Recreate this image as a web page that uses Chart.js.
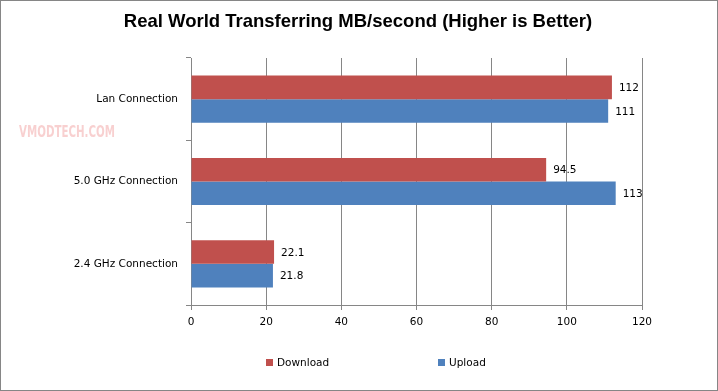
<!DOCTYPE html>
<html lang="en">
<head>
  <meta charset="UTF-8">
  <title>Real World Transferring</title>
  <style>
    body { margin: 0; background: #fff; }
    #wrap { width: 718px; height: 391px; }
  </style>
</head>
<body>
  <div id="wrap"><canvas id="chart" width="718" height="391"></canvas></div>

  <script src="https://cdn.jsdelivr.net/npm/chart.js"></script>
  <script>
    const categories = ['Lan Connection', '5.0 GHz Connection', '2.4 GHz Connection'];
    const downloadValues = [112, 94.5, 22.1];
    const uploadValues = [111, 113, 21.8];
    const seriesNames = ['Download', 'Upload'];
    const xTicks = [0, 20, 40, 60, 80, 100, 120];
    const titleText = 'Real World Transferring MB/second (Higher is Better)';

    const labelFont = '10.5px "DejaVu Sans", sans-serif';

    // frame, title, watermark, value labels and bottom legend
    const extras = {
      id: 'extras',
      beforeDraw(chart) {
        const ctx = chart.ctx;
        ctx.save();
        ctx.fillStyle = 'rgba(240,150,150,0.45)';
        ctx.font = 'bold 15px "DejaVu Sans", sans-serif';
        ctx.textAlign = 'left';
        ctx.fillText('VMODTECH.COM', 19, 137, 96);
        ctx.restore();
      },
      afterDatasetsDraw(chart) {
        const ctx = chart.ctx;
        ctx.save();
        ctx.font = labelFont;
        ctx.fillStyle = '#000';
        ctx.textBaseline = 'middle';
        ctx.textAlign = 'left';
        chart.data.datasets.forEach((ds, i) => {
          chart.getDatasetMeta(i).data.forEach((bar, j) => {
            ctx.fillText(String(ds.data[j]), bar.x + 7, bar.y + 1);
          });
        });
        ctx.restore();
      },
      afterDraw(chart) {
        const ctx = chart.ctx;
        ctx.save();
        ctx.strokeStyle = '#868686';
        ctx.lineWidth = 1;
        ctx.strokeRect(0.5, 0.5, chart.width - 1, chart.height - 1);

        ctx.fillStyle = '#000';
        ctx.font = 'bold 18.5px "Liberation Sans", sans-serif';
        ctx.textAlign = 'center';
        ctx.textBaseline = 'middle';
        ctx.fillText(titleText, 358, 22);

        // legend
        const starts = [266, 438];
        ctx.font = labelFont;
        ctx.textAlign = 'left';
        chart.data.datasets.forEach((ds, i) => {
          ctx.fillStyle = ds.backgroundColor;
          ctx.fillRect(starts[i], 359, 7, 7);
          ctx.fillStyle = '#000';
          ctx.fillText(ds.label, starts[i] + 11, 363);
        });
        ctx.restore();
      }
    };

    new Chart(document.getElementById('chart'), {
      type: 'bar',
      data: {
        labels: categories,
        datasets: [
          { label: seriesNames[0], data: downloadValues, backgroundColor: '#C0504D' },
          { label: seriesNames[1], data: uploadValues, backgroundColor: '#4F81BD' }
        ]
      },
      options: {
        indexAxis: 'y',
        responsive: false,
        animation: false,
        events: [],
        categoryPercentage: 0.573,
        barPercentage: 1,
        layout: { padding: { top: 58, left: 0, right: 76, bottom: 56 } },
        plugins: {
          legend: { display: false },
          tooltip: { enabled: false },
          title: { display: false }
        },
        scales: {
          x: {
            min: 0,
            max: 120,
            afterBuildTicks(scale) { scale.ticks = xTicks.map(v => ({ value: v })); },
            afterFit(scale) { scale.height = 30; },
            grid: { color: '#868686', tickLength: 5, drawTicks: true },
            border: { color: '#868686' },
            ticks: { color: '#000', font: { family: '"DejaVu Sans", sans-serif', size: 10.5 }, padding: 6 }
          },
          y: {
            afterFit(scale) { scale.width = 191; },
            grid: { drawOnChartArea: false, color: '#868686', tickLength: 5 },
            border: { color: '#868686' },
            ticks: { color: '#000', font: { family: '"DejaVu Sans", sans-serif', size: 10.5 }, padding: 8 }
          }
        }
      },
      plugins: [extras]
    });
  </script>
</body>
</html>
